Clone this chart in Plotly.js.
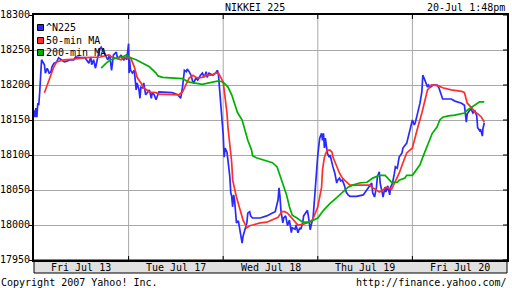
<!DOCTYPE html>
<html>
<head>
<meta charset="utf-8">
<script src="https://cdn.plot.ly/plotly-3.0.1.min.js"></script>
<style>html,body{margin:0;padding:0;background:#fff;}#chart{width:512px;height:288px;}</style>
</head>
<body>
<div id="chart"></div>
<script>
// ---- data (x = trading-day index, 0 = Fri Jul 13 open) ----
const dayLabels = ["Fri Jul 13", "Tue Jul 17", "Wed Jul 18", "Thu Jul 19", "Fri Jul 20"];
const yTicks = [17950, 18000, 18050, 18100, 18150, 18200, 18250, 18300];
const seriesNames = ["^N225", "50-min MA", "200-min MA"];

const n225T = [0.00,0.01,0.02,0.03,0.04,0.05,0.06,0.07,0.08,0.11,0.12,0.14,0.16,0.18,0.19,0.21,0.24,0.26,0.29,0.32,0.35,0.38,0.42,0.44,0.49,0.54,0.58,0.60,0.61,0.63,0.65,0.67,0.69,0.71,0.74,0.76,0.78,0.80,0.82,0.84,0.87,0.88,0.90,0.92,0.93,0.95,0.97,0.98,
 1.00,1.005,1.01,1.02,1.04,1.06,1.07,1.08,1.09,1.11,1.12,1.13,1.15,1.16,1.18,1.20,1.22,1.24,1.25,1.27,1.29,1.32,1.39,1.46,1.52,1.55,1.57,1.59,1.61,1.62,1.64,1.66,1.68,1.69,1.71,1.73,1.76,1.78,1.80,1.82,1.83,1.85,1.89,1.92,1.94,1.95,
 2.00,2.01,2.02,2.04,2.05,2.07,2.08,2.09,2.10,2.11,2.12,2.14,2.16,2.18,2.20,2.21,2.23,2.25,2.26,2.28,2.29,2.31,2.39,2.46,2.52,2.55,2.58,2.59,2.60,2.61,2.63,2.64,2.66,2.68,2.70,2.72,2.73,2.76,2.77,2.79,2.81,2.82,2.84,2.85,2.88,2.89,2.90,2.92,2.93,2.95,
 3.00,3.01,3.02,3.04,3.05,3.06,3.07,3.08,3.10,3.12,3.13,3.16,3.18,3.20,3.21,3.23,3.24,3.26,3.28,3.30,3.32,3.34,3.41,3.48,3.52,3.57,3.58,3.60,3.62,3.63,3.65,3.66,3.68,3.69,3.71,3.72,3.74,3.76,3.77,3.79,3.81,3.82,3.84,3.86,3.89,3.90,3.94,
 4.00,4.02,4.03,4.05,4.08,4.10,4.105,4.11,4.12,4.14,4.15,4.16,4.17,4.19,4.22,4.26,4.28,4.31,4.32,4.41,4.45,4.52,4.55,4.57,4.58,4.60,4.62,4.64,4.66,4.68,4.69,4.71,4.72,4.74,4.745,4.76];
const n225V = [18164,18154,18167,18154,18174,18171,18189,18217,18236,18229,18217,18224,18217,18219,18226,18231,18233,18239,18236,18233,18234,18236,18236,18240,18239,18239,18231,18240,18229,18236,18224,18236,18250,18254,18246,18243,18236,18243,18221,18243,18247,18240,18239,18243,18239,18236,18240,18236,
 18259,18217,18236,18221,18217,18221,18203,18193,18203,18193,18181,18197,18196,18203,18186,18190,18193,18181,18189,18186,18179,18190,18190,18189,18186,18181,18197,18221,18219,18223,18219,18214,18204,18203,18210,18207,18214,18217,18211,18219,18211,18217,18214,18217,18221,18214,
 18129,18097,18110,18104,18093,18069,18046,18041,18026,18043,18036,18003,18006,17989,17974,17984,17993,18003,18017,18019,18013,18010,18010,18013,18017,18019,18036,18053,18041,18021,18003,18010,18013,17999,18007,17989,17996,17994,18000,17989,17996,17994,18003,18013,18019,18021,18013,17993,18000,18010,
 18100,18117,18124,18131,18121,18131,18110,18124,18103,18097,18100,18083,18074,18060,18064,18067,18063,18064,18057,18047,18043,18041,18041,18043,18050,18060,18046,18040,18054,18069,18076,18059,18047,18040,18054,18047,18056,18043,18054,18060,18074,18083,18081,18097,18103,18110,18117,
 18150,18143,18146,18157,18174,18190,18207,18214,18211,18204,18201,18197,18200,18197,18200,18200,18196,18181,18180,18180,18177,18174,18171,18147,18159,18163,18166,18160,18163,18156,18139,18135,18137,18127,18137,18146];

const ma50T = [0.11,0.13,0.16,0.19,0.21,0.24,0.32,0.42,0.54,0.70,0.79,0.82,0.88,0.92,0.95,0.98,
 1.00,1.02,1.06,1.09,1.13,1.16,1.22,1.29,1.32,1.53,1.57,1.61,1.64,1.68,1.71,1.75,1.78,1.82,1.87,1.92,1.95,
 2.00,2.02,2.04,2.05,2.07,2.09,2.10,2.14,2.18,2.21,2.25,2.28,2.31,2.39,2.46,2.52,2.58,2.62,2.65,2.68,2.72,2.76,2.79,2.84,2.88,2.91,2.94,2.95,
 3.00,3.02,3.04,3.05,3.07,3.09,3.10,3.13,3.15,3.16,3.20,3.23,3.26,3.31,3.34,3.55,3.57,3.62,3.65,3.69,3.72,3.78,3.81,3.86,3.90,3.94,
 4.00,4.02,4.05,4.10,4.13,4.16,4.20,4.27,4.32,4.41,4.52,4.55,4.57,4.58,4.63,4.66,4.69,4.73,4.76];
const ma50V = [18189,18197,18207,18221,18226,18233,18236,18237,18239,18240,18243,18240,18237,18236,18239,18239,
 18240,18239,18226,18211,18203,18196,18190,18189,18187,18186,18190,18203,18210,18214,18211,18210,18211,18214,18214,18217,18217,
 18204,18183,18160,18140,18117,18089,18064,18040,18021,18007,17996,17999,18000,18003,18004,18007,18011,18019,18019,18017,18011,18004,18000,18001,18003,18004,18007,18009,
 18026,18040,18054,18079,18097,18104,18107,18107,18104,18097,18083,18074,18067,18060,18057,18057,18054,18050,18047,18050,18054,18051,18060,18074,18089,18103,
 18110,18121,18136,18160,18179,18193,18200,18199,18196,18193,18191,18189,18179,18174,18167,18161,18159,18154,18147];

const ma200T = [0.71,0.73,0.76,0.81,0.87,0.91,0.95,0.98,
 1.00,1.08,1.15,1.22,1.29,1.31,1.36,1.46,1.57,1.64,1.71,1.78,1.85,1.90,1.95,
 2.00,2.05,2.09,2.12,2.15,2.20,2.23,2.26,2.30,2.31,2.35,2.46,2.52,2.57,2.60,2.63,2.67,2.70,2.73,2.78,2.84,2.91,2.95,
 3.00,3.06,3.13,3.20,3.26,3.32,3.37,3.44,3.52,3.58,3.65,3.71,3.74,3.78,3.84,3.86,3.92,3.94,
 4.00,4.04,4.08,4.11,4.15,4.18,4.21,4.26,4.29,4.32,4.38,4.45,4.55,4.58,4.63,4.68,4.71,4.76];
const ma200V = [18224,18227,18231,18236,18239,18240,18241,18243,
 18240,18236,18231,18226,18217,18213,18211,18210,18209,18204,18203,18201,18203,18204,18206,
 18204,18197,18186,18174,18161,18150,18136,18121,18107,18099,18096,18091,18089,18083,18071,18057,18043,18026,18014,18010,18004,18004,18007,
 18010,18021,18031,18039,18046,18054,18057,18060,18061,18067,18071,18071,18067,18061,18061,18064,18067,18071,
 18071,18079,18086,18097,18110,18121,18131,18140,18150,18154,18156,18157,18160,18164,18169,18174,18176,18176];

// ---- styles ----
const colors = ["#2a2aff", "#ff2e2e", "#00b000"];
const FONT = "DejaVu Sans Mono, Liberation Mono, monospace";
const GRID = "#a8a8a8";
const W = 512, H = 288, ML = 34, MR = 5, MT = 15, MB = 28;
const PW = W - ML - MR, PH = H - MT - MB;
const px = v => v / PW, py = v => v / PH;
const txt = (extra) => Object.assign({xref: "paper", yref: "paper", showarrow: false, borderpad: 0,
  font: {family: FONT, size: 10, color: "#000"}}, extra);

const traces = [
  {x: n225T, y: n225V, name: seriesNames[0]},
  {x: ma50T, y: ma50V, name: seriesNames[1]},
  {x: ma200T, y: ma200V, name: seriesNames[2]}
].map((t, i) => Object.assign(t, {type: "scatter", mode: "lines", line: {color: colors[i], width: 1.7}, hoverinfo: "skip"}));

const shapes = [];
const annotations = [];
// grey band under the plot holding the day labels
shapes.push({type: "rect", xref: "paper", yref: "paper", x0: 0, x1: 1, y0: -py(13), y1: 0,
  fillcolor: "#e0e0e0", line: {color: "#000", width: 1}, layer: "below"});
// day separators + day labels
for (let d = 0; d < dayLabels.length; d++) {
  annotations.push(txt({xref: "x", x: d + 0.5, y: -py(7), xanchor: "center", yanchor: "middle", text: dayLabels[d]}));
  if (d === 0) continue;
  shapes.push({type: "line", xref: "x", yref: "paper", x0: d, x1: d, y0: 0, y1: 1, line: {color: GRID, width: 1}, layer: "below"});
  shapes.push({type: "line", xref: "x", yref: "paper", x0: d, x1: d, y0: 1 - py(4), y1: 1, line: {color: "#000", width: 1}});
  shapes.push({type: "line", xref: "x", yref: "paper", x0: d, x1: d, y0: 0, y1: py(4), line: {color: "#000", width: 1}});
}
// y labels + right-side inner ticks
yTicks.forEach(v => {
  shapes.push({type: "line", xref: "paper", yref: "y", x0: 1 - px(4), x1: 1, y0: v, y1: v, line: {color: "#000", width: 1}});
  annotations.push(txt({yref: "y", x: -px(3.5), y: v, xanchor: "right", yanchor: "middle", yshift: 1, text: String(v)}));
});

// legend squares + labels
const legendY = [27.5, 40.5, 52.5];
seriesNames.forEach((nm, i) => {
  const cy = legendY[i];
  shapes.push({type: "rect", xref: "paper", yref: "paper", x0: px(3.5), x1: px(9.5), y0: 1 - py(cy - MT + 3), y1: 1 - py(cy - MT - 3),
    fillcolor: colors[i], line: {color: "#000", width: 1}});
  annotations.push(txt({x: px(11), y: 1 - py(cy - MT), xanchor: "left", yanchor: "middle", text: nm}));
});
annotations.push(txt({x: px(255 - ML), y: 1 + py(8), xanchor: "center", yanchor: "middle", text: "NIKKEI 225"}));
annotations.push(txt({x: px(506 - ML), y: 1 + py(8), xanchor: "right", yanchor: "middle", text: "20-Jul 1:48pm"}));
annotations.push(txt({x: -px(ML), y: -py(22), xanchor: "left", yanchor: "middle", text: "Copyright 2007 Yahoo! Inc."}));
annotations.push(txt({x: px(508 - ML), y: -py(22), xanchor: "right", yanchor: "middle", text: "http://finance.yahoo.com/"}));

const layout = {
  width: W, height: H,
  margin: {l: ML, r: MR, t: MT, b: MB, pad: 0},
  paper_bgcolor: "#fff", plot_bgcolor: "#fff",
  showlegend: false,
  font: {family: FONT, size: 10, color: "#000"},
  xaxis: {range: [0, dayLabels.length], showticklabels: false,
    showgrid: false, zeroline: false, showline: true, mirror: true, linecolor: "#000", linewidth: 2,
    ticks: "", fixedrange: true},
  yaxis: {range: [yTicks[0], yTicks[yTicks.length - 1]], tickvals: yTicks, showticklabels: false,
    showgrid: true, gridcolor: GRID, gridwidth: 1, zeroline: false, showline: true, mirror: true,
    linecolor: "#000", linewidth: 2, ticks: "outside", ticklen: 3, tickwidth: 1, tickcolor: "#000", fixedrange: true},
  shapes: shapes,
  annotations: annotations
};

Plotly.newPlot("chart", traces, layout, {staticPlot: true, displayModeBar: false});
</script>
</body>
</html>
